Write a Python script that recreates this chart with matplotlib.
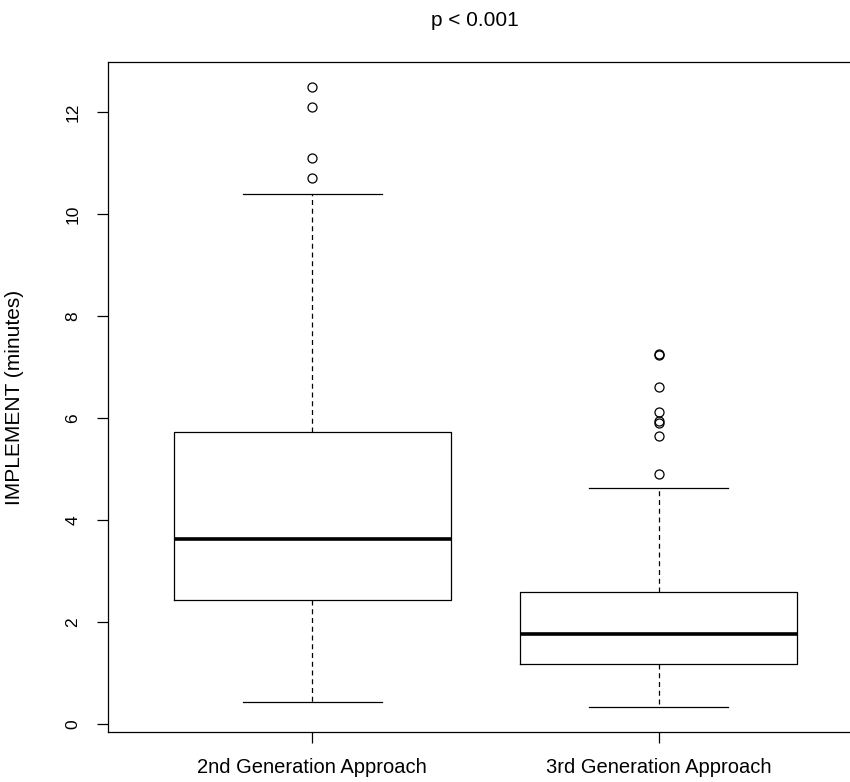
import matplotlib.pyplot as plt

plt.rcParams['font.family'] = ['Liberation Sans', 'DejaVu Sans']

groups = ['2nd Generation Approach', '3rd Generation Approach']
whislo = [0.43, 0.33]
q1 = [2.44, 1.18]
med = [3.63, 1.77]
q3 = [5.72, 2.59]
whishi = [10.39, 4.62]
fliers = [
    [10.71, 11.10, 12.10, 12.50],
    [4.91, 5.64, 5.91, 5.95, 6.13, 6.62, 7.23, 7.25],
]
yticks = [0, 2, 4, 6, 8, 10, 12]

stats = []
for i, g in enumerate(groups):
    stats.append(dict(label=g, whislo=whislo[i], q1=q1[i], med=med[i],
                      q3=q3[i], whishi=whishi[i], fliers=fliers[i]))

fig = plt.figure(figsize=(8.5, 7.82), dpi=100)
ax = fig.add_axes([108/850, 50/782, 755/850, 670/782])

ax.bxp(stats, positions=[1, 2], widths=0.8, showfliers=True,
       boxprops=dict(color='black', linewidth=0.9),
       medianprops=dict(color='black', linewidth=2.6, solid_capstyle='butt'),
       whiskerprops=dict(color='black', linewidth=0.9, linestyle=(0, (4, 3))),
       capprops=dict(color='black', linewidth=0.9),
       capwidths=0.4,
       flierprops=dict(marker='o', markerfacecolor='none', markeredgecolor='black',
                       markersize=6.5, markeredgewidth=0.9))

ax.set_xlim(0.41, 2.59)
ax.set_ylim(-0.16, 12.99)
ax.set_yticks(yticks)
ax.set_yticklabels([str(t) for t in yticks], rotation=90, va='center', fontsize=12.5)
ax.set_xticks([1, 2])
ax.set_xticklabels(groups, fontsize=14.5)
ax.tick_params(axis='both', direction='out', length=8, width=0.9, colors='black')
ax.tick_params(axis='x', pad=11)
ax.tick_params(axis='y', pad=12)
for s in ax.spines.values():
    s.set_linewidth(0.9)

ax.set_ylabel('IMPLEMENT (minutes)', fontsize=15, labelpad=30)
fig.text(475/850, 1 - 20/782, 'p < 0.001', ha='center', va='center', fontsize=15)

fig.savefig('out.png', dpi=100)
